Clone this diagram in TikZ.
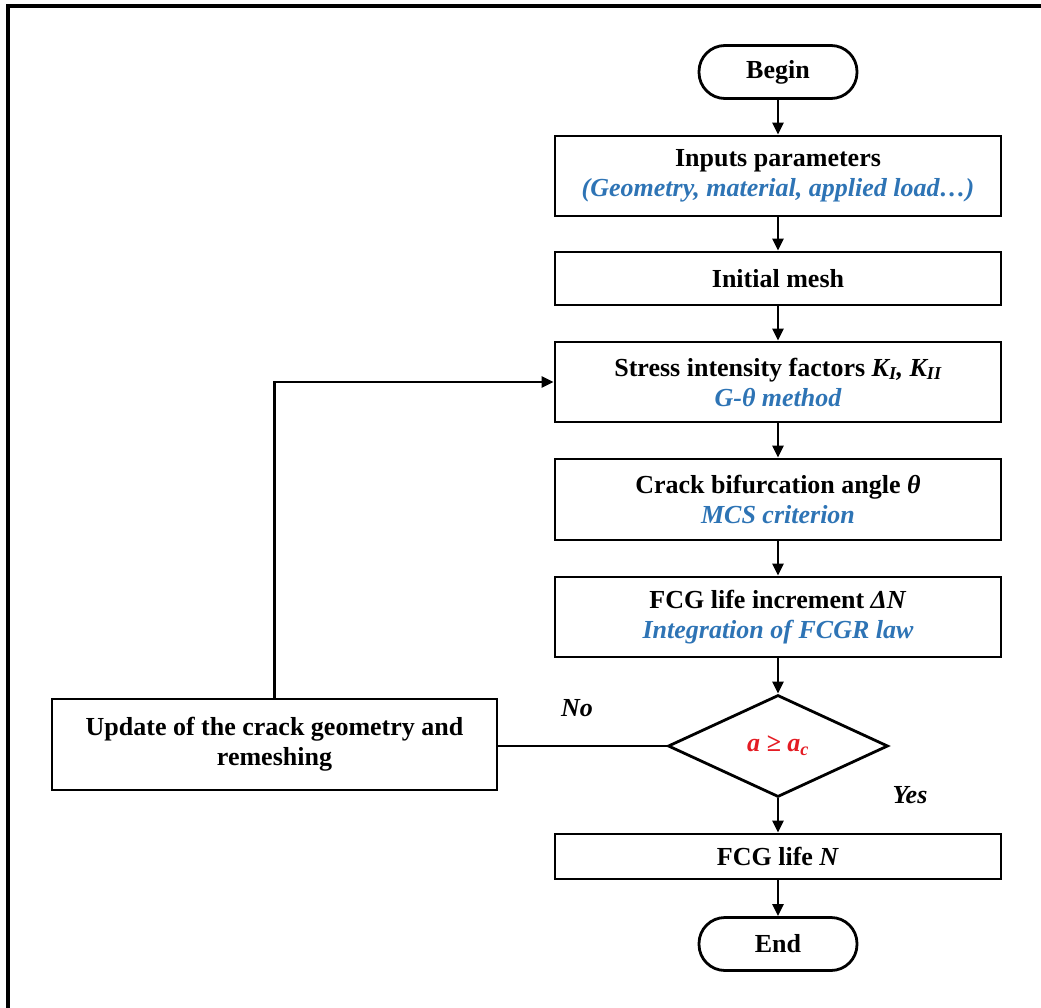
\documentclass[tikz,border=0pt]{standalone}
\usepackage{fontspec}
\setmainfont{Liberation Serif}
\usetikzlibrary{shapes.geometric,arrows.meta}

\definecolor{noteblue}{RGB}{46,116,181}
\definecolor{testred}{RGB}{228,28,36}

\begin{document}
\begin{tikzpicture}[x=1pt,y=-1pt,
  txt/.style={font=\bfseries\fontsize{26}{30}\selectfont},
  box/.style={txt, draw, line width=2.8pt, minimum width=446pt, align=center, inner sep=0pt},
  term/.style={txt, draw, line width=2.8pt, rounded corners=26pt, minimum width=158pt, minimum height=53pt},
  flow/.style={line width=2.6pt, -{Triangle[length=12pt,width=11pt]}},
  link/.style={line width=2.6pt}
]

  % parameters
  \def\xc{778}     % main column
  \def\W{1041}     % picture width
  \def\Hpic{1008}  % picture height

  \useasboundingbox (0,0) rectangle (\W,\Hpic);

  % frame (top and left only)
  \draw[line width=3.5pt] (8,\Hpic) -- (8,6) -- (\W,6);

  % main column
  \node[term] (begin) at (\xc,72) {Begin};
  \node[box, minimum height=80pt] (inputs) at (\xc,176)
      {Inputs parameters\\\textcolor{noteblue}{\itshape (Geometry, material, applied load…)}};
  \node[box, minimum height=53pt] (mesh) at (\xc,278.5) {Initial mesh};
  \node[box, minimum height=80pt] (sif) at (\xc,382)
      {Stress intensity factors \textit{K\textsubscript{I}, K\textsubscript{II}}\\\textcolor{noteblue}{\itshape G-θ method}};
  \node[box, minimum height=81pt] (angle) at (\xc,499.5)
      {Crack bifurcation angle \textit{θ}\\\textcolor{noteblue}{\itshape MCS criterion}};
  \node[box, minimum height=80pt] (incr) at (\xc,617)
      {FCG life increment \textit{ΔN}\\\textcolor{noteblue}{\itshape Integration of FCGR law}};
  \node[txt, draw, diamond, line width=2.8pt, minimum width=220pt, minimum height=102pt, inner sep=0pt]
      (test) at (\xc,746) {\textcolor{testred}{\itshape a ≥ a\textsubscript{c}}};
  \node[box, minimum height=45pt] (life) at (\xc,856.5) {FCG life \textit{N}};
  \node[term] (finish) at (\xc,944) {End};

  % loop back
  \node[box, minimum width=445pt, minimum height=91pt] (update) at (274.5,744.5)
      {Update of the crack geometry and\\remeshing};

  % labels
  \node[font=\bfseries\itshape\fontsize{26}{30}\selectfont] (lblno) at (577,708) {No};
  \node[font=\bfseries\itshape\fontsize{26}{30}\selectfont] (lblyes) at (910,795) {Yes};

  % connectors
  \draw[flow] (begin) -- (inputs);
  \draw[flow] (inputs) -- (mesh);
  \draw[flow] (mesh) -- (sif);
  \draw[flow] (sif) -- (angle);
  \draw[flow] (angle) -- (incr);
  \draw[flow] (incr) -- (test);
  \draw[flow] (test) -- (life);
  \draw[flow] (life) -- (finish);
  \draw[link] (test.west) -- (update.east |- test.west);
  \draw[flow] (update.north) |- (sif.west);

\end{tikzpicture}
\end{document}
